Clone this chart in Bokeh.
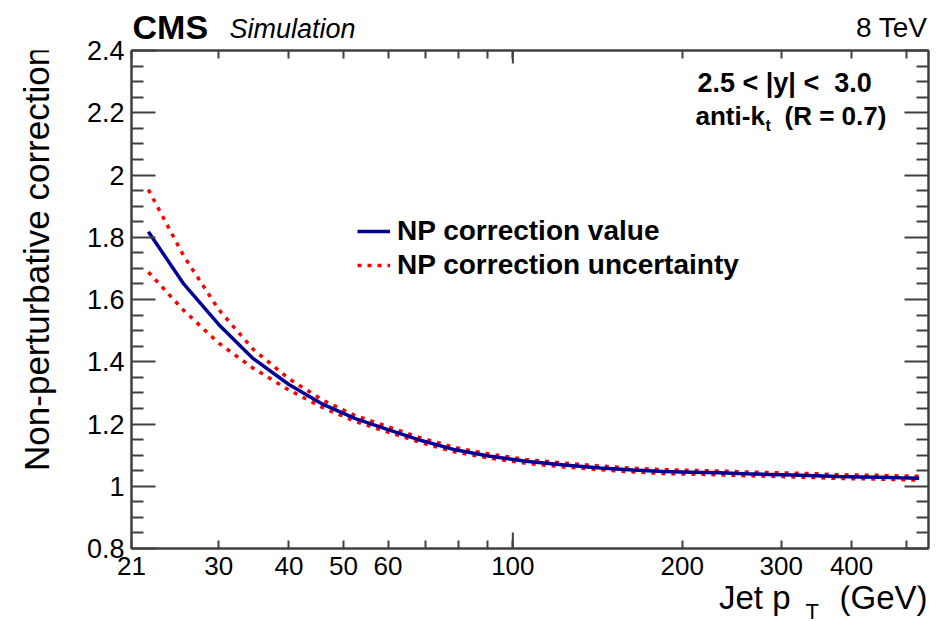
import numpy as np
from bokeh.plotting import figure
from bokeh.layouts import column, row
from bokeh.models import (FixedTicker, LogAxis, LinearAxis, Label, Legend,
                          LegendItem, Range1d)
from bokeh.embed import file_html
from bokeh.resources import INLINE

# ---------------- data ----------------
pt_centers = [22.5, 26, 30, 34.5, 40, 46, 52.5, 60, 69, 79, 90.5, 105.5, 123.5,
              143, 163.5, 185, 208, 232.5, 258.5, 286, 315, 346, 378.5, 412.5,
              449, 487.5, 527.5]
np_value = [1.818, 1.650, 1.520, 1.411, 1.327, 1.263, 1.217, 1.182, 1.146,
            1.117, 1.097, 1.080, 1.068, 1.059, 1.052, 1.047, 1.045, 1.043,
            1.040, 1.038, 1.036, 1.034, 1.031, 1.030, 1.029, 1.027, 1.026]
np_upper = [1.953, 1.740, 1.568, 1.441, 1.345, 1.276, 1.227, 1.191, 1.154,
            1.124, 1.104, 1.086, 1.074, 1.065, 1.058, 1.053, 1.051, 1.049,
            1.046, 1.044, 1.042, 1.040, 1.037, 1.036, 1.035, 1.033, 1.032]
np_lower = [1.688, 1.565, 1.460, 1.380, 1.309, 1.252, 1.208, 1.174, 1.139,
            1.110, 1.091, 1.074, 1.062, 1.053, 1.046, 1.041, 1.039, 1.037,
            1.034, 1.032, 1.030, 1.028, 1.025, 1.024, 1.023, 1.021, 1.020]

x_tick_values = [21, 30, 40, 50, 60, 100, 200, 300, 400]
x_tick_labels = ["21", "30", "40", "50", "60", "100", "200", "300", "400"]
x_minor_values = [70, 80, 90, 500]
x_decade_values = [100]
y_tick_values = [0.8, 1.0, 1.2, 1.4, 1.6, 1.8, 2.0, 2.2, 2.4]
y_tick_labels = ["0.8", "1", "1.2", "1.4", "1.6", "1.8", "2", "2.2", "2.4"]

X_RANGE = (21, 548)
Y_RANGE = (0.8, 2.4)

# ---------------- layout geometry (canvas pixels) ----------------
W, H = 944, 621
HEAD_H = 39          # header strip
XT_TOP = 585         # x-title strip starts here
XT_H = H - XT_TOP
MAIN_H = XT_TOP - HEAD_H
YT_W = 62            # y-title strip
MAIN_W = W - YT_W
FRAME_L, FRAME_R, FRAME_T, FRAME_B = 131, 928, 50, 548
FONT = "Liberation Sans"
AX_COLOR = "#404040"
MID = 0.35           # baseline -> vertical middle of text, in em


def fx(cx):
    return cx - FRAME_L


def fy(cy):
    return FRAME_B - cy


def text_strip(width, height):
    f = figure(width=width, height=height, x_range=Range1d(0, width),
               y_range=Range1d(0, height), output_backend="svg", title=None,
               toolbar_location=None, x_axis_location=None,
               y_axis_location=None, min_border=0)
    f.outline_line_color = None
    f.grid.visible = False
    f.background_fill_color = "white"
    f.border_fill_color = "white"
    return f


def strip_text(f, text, x, y, size, style="normal", align="left", angle=0.0):
    f.add_layout(Label(x=x, y=y, text=text, text_font=FONT,
                       text_font_style=style, text_font_size=f"{size}px",
                       text_align=align, text_baseline="middle",
                       text_color="black", angle=angle))


# ---------------- main plot ----------------
y_minor_values = [v for v in np.round(np.arange(Y_RANGE[0], Y_RANGE[1] + 1e-9, 0.05), 2).tolist()
                  if min(abs(v - t) for t in y_tick_values) > 1e-6]

p = figure(width=MAIN_W, height=MAIN_H, x_axis_type="log", title=None,
           x_range=Range1d(*X_RANGE), y_range=Range1d(*Y_RANGE),
           output_backend="svg", toolbar_location=None,
           min_border_left=FRAME_L - YT_W, min_border_right=W - FRAME_R,
           min_border_top=FRAME_T - HEAD_H,
           min_border_bottom=XT_TOP - FRAME_B)
p.background_fill_color = "white"
p.border_fill_color = "white"
p.outline_line_color = AX_COLOR
p.outline_line_width = 2
p.xgrid.visible = False
p.ygrid.visible = False

x_ticker = FixedTicker(ticks=x_tick_values, minor_ticks=x_minor_values)
y_ticker = FixedTicker(ticks=y_tick_values, minor_ticks=y_minor_values)


def style_axis(ax, maj_len, min_len, tick_values, labels=None, size="26px", standoff=7):
    ax.axis_line_color = AX_COLOR
    ax.axis_line_width = 2
    ax.major_tick_line_color = AX_COLOR
    ax.major_tick_line_width = 2
    ax.minor_tick_line_color = AX_COLOR
    ax.minor_tick_line_width = 2
    ax.major_tick_in = maj_len
    ax.major_tick_out = 0
    ax.minor_tick_in = min_len
    ax.minor_tick_out = 0
    if labels is not None:
        ax.major_label_overrides = {v: s for v, s in zip(tick_values, labels)}
        ax.major_label_text_font = FONT
        ax.major_label_text_font_size = size
        ax.major_label_text_color = "black"
        ax.major_label_standoff = standoff
    else:
        ax.major_label_overrides = {v: "" for v in tick_values}
        ax.major_label_text_font_size = "0px"
        ax.major_label_standoff = 0


xb = p.xaxis[0]
xb.ticker = x_ticker
style_axis(xb, 8, 8, x_tick_values, x_tick_labels, size="26px", standoff=8)

yl = p.yaxis[0]
yl.ticker = y_ticker
style_axis(yl, 24, 12, y_tick_values, y_tick_labels, size="27px", standoff=7)

xt = LogAxis(ticker=x_ticker)
style_axis(xt, 8, 8, x_tick_values)
p.add_layout(xt, "above")

yr = LinearAxis(ticker=y_ticker)
style_axis(yr, 24, 12, y_tick_values)
p.add_layout(yr, "right")

# longer decade tick marks (bottom and top)
px_per_y = (FRAME_B - FRAME_T) / (Y_RANGE[1] - Y_RANGE[0])
n_dec = len(x_decade_values)
p.segment(x0=x_decade_values, x1=x_decade_values,
          y0=[Y_RANGE[0]] * n_dec, y1=[Y_RANGE[0] + 16 / px_per_y] * n_dec,
          line_color=AX_COLOR, line_width=2)
p.segment(x0=x_decade_values, x1=x_decade_values,
          y0=[Y_RANGE[1] - 13 / px_per_y] * n_dec, y1=[Y_RANGE[1]] * n_dec,
          line_color=AX_COLOR, line_width=2)

# ---------------- curves ----------------
RED = "#ff0000"
BLUE = "#000099"
r_up = p.line(pt_centers, np_upper, line_color=RED, line_width=3.5, line_dash="4 6")
r_lo = p.line(pt_centers, np_lower, line_color=RED, line_width=3.5, line_dash="4 6")
r_val = p.line(pt_centers, np_value, line_color=BLUE, line_width=3.5)

legend = Legend(items=[LegendItem(label="NP correction value", renderers=[r_val]),
                       LegendItem(label="NP correction uncertainty", renderers=[r_up])],
                location=(fx(357), fy(281)),
                label_text_font=FONT, label_text_font_style="bold",
                label_text_font_size="28px", label_text_color="black",
                glyph_width=33, glyph_height=30, label_height=30,
                label_standoff=7, spacing=2, padding=0, margin=0,
                background_fill_alpha=0, border_line_alpha=0)
p.add_layout(legend)


def add_text(text, cx, baseline_cy, size, style="normal", align="left"):
    p.add_layout(Label(x=fx(cx), y=fy(baseline_cy - MID * size),
                       x_units="screen", y_units="screen",
                       text=text, text_font=FONT, text_font_style=style,
                       text_font_size=f"{size}px", text_align=align,
                       text_baseline="middle", text_color="black"))


add_text("2.5 < |y| <\u00a0 3.0", 697, 92, 27, "bold")
add_text("anti-k", 695, 125, 26, "bold")
add_text("t", 765, 131, 16, "bold")
add_text("(R = 0.7)", 784, 125, 26, "bold")

# ---------------- header strip ----------------
head = text_strip(W, HEAD_H)
strip_text(head, "CMS", 132, HEAD_H - (38 - MID * 34), 34, "bold")
strip_text(head, "Simulation", 229, HEAD_H - (38 - MID * 26), 27, "italic")
strip_text(head, "8 TeV", 927, HEAD_H - (37 - MID * 28), 28, "normal", "right")

# ---------------- y-title strip ----------------
ytit = text_strip(YT_W, MAIN_H)
strip_text(ytit, "Non-perturbative correction", 48 - MID * 35,
           MAIN_H - (35 - HEAD_H), 35, "normal", "right", np.pi / 2)

# ---------------- x-title strip ----------------
xtit = text_strip(W, XT_H)
strip_text(xtit, "(GeV)", 927, H - (609 - MID * 33), 33, "normal", "right")
strip_text(xtit, "T", 805, H - (619 - MID * 22), 22, "normal", "left")
strip_text(xtit, "Jet p", 790, H - (609 - MID * 33), 33, "normal", "right")

layout = column(head, row(ytit, p, spacing=0), xtit, spacing=0)

with open("out.html", "w") as f:
    f.write(file_html(layout, INLINE))
